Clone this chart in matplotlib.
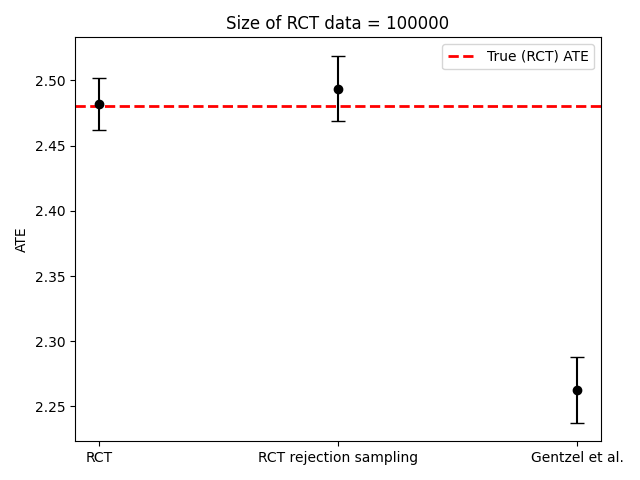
import matplotlib
matplotlib.use("Agg")
import matplotlib.pyplot as plt

# estimators and their ATE estimates with error bars
methods = ["RCT", "RCT rejection sampling", "Gentzel et al."]
ate_means = [2.4818, 2.4937, 2.2628]
ate_errors = [0.0202, 0.0252, 0.0254]
true_ate = 2.4806
n_rct = 100000

fig, ax = plt.subplots(figsize=(6.4, 4.8), dpi=100)
x = list(range(len(methods)))
ax.errorbar(x, ate_means, yerr=ate_errors, fmt='o', color='black',
            ecolor='black', elinewidth=1.5, capsize=5)
ax.axhline(true_ate, color='red', linestyle='--', linewidth=2, label="True (RCT) ATE")
ax.set_xticks(x)
ax.set_xticklabels(methods)
ax.set_ylabel("ATE")
ax.set_title(f"Size of RCT data = {n_rct}")
ax.legend(loc='upper right')
plt.tight_layout()
plt.savefig("out.png")
